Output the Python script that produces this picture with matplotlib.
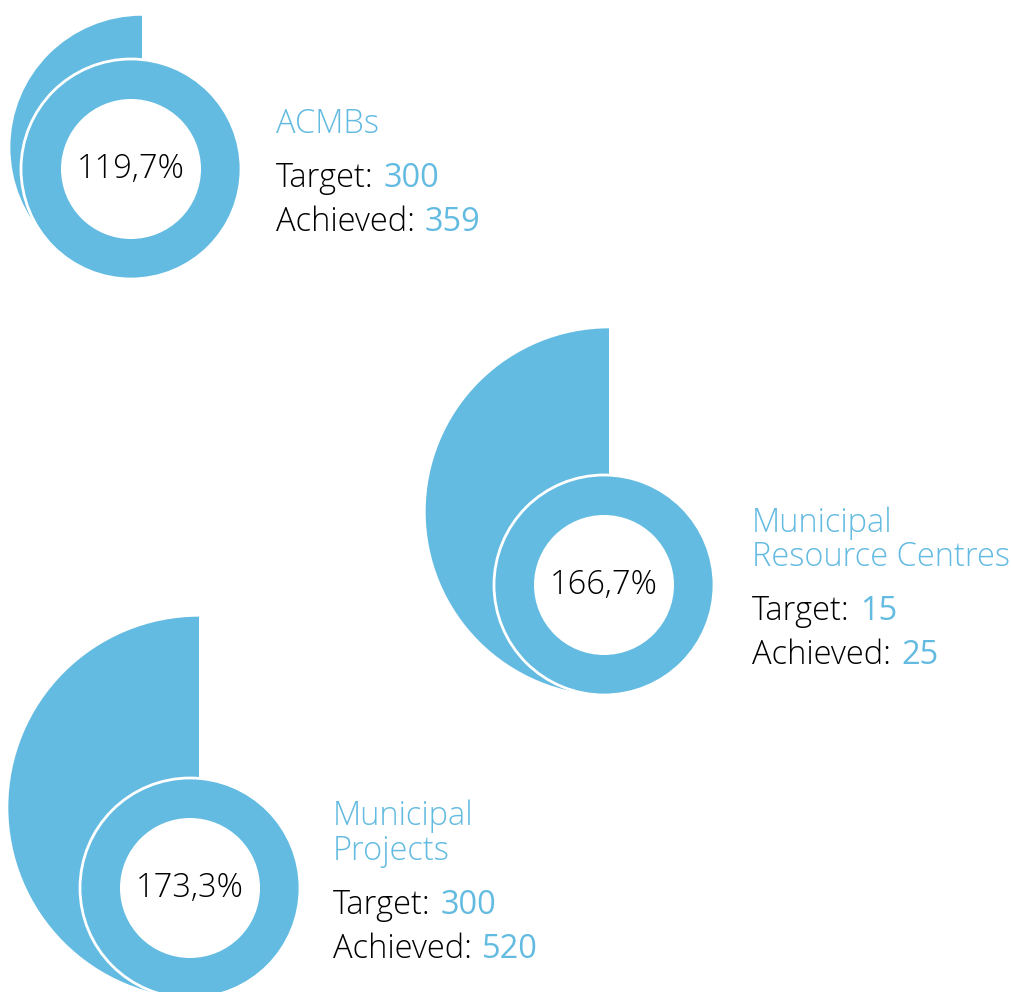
import matplotlib
matplotlib.use("Agg")
import matplotlib.pyplot as plt
from matplotlib.patches import Wedge, Circle

# data
labels = ["ACMBs", "Municipal\nResource Centres", "Municipal\nProjects"]
targets = [300, 15, 300]
achieved = [359, 25, 520]

# layout (pixel space)
centers = [(131, 169), (604, 585), (190, 888)]
edge_dx = [11, 5, 9]
text_pos = [(276, 133), (752, 532), (333, 825)]

BLUE = "#63bbe1"
FONT = "Open Sans"
FS = 23.5
RING_R = 110
HOLE_R = 70


def fmt_pct(p):
    return f"{p:.1f}".replace(".", ",") + "%"


fig = plt.figure(figsize=(10.11, 9.92), dpi=100)
ax = fig.add_axes([0, 0, 1, 1])
ax.set_xlim(0, 1011)
ax.set_ylim(992, 0)
ax.axis("off")

for lab, tgt, ach, (cx, cy), dx, (tx, ty) in zip(labels, targets, achieved,
                                                 centers, edge_dx, text_pos):
    pct = ach / tgt * 100
    big_r = RING_R * pct / 100
    # excess drawn as a bigger half disc sitting on the ring's bottom
    ax.add_patch(Wedge((cx + dx, cy + RING_R - big_r), big_r, 90, 270,
                       facecolor=BLUE, edgecolor="none"))
    ax.add_patch(Circle((cx, cy), RING_R, facecolor=BLUE,
                        edgecolor="white", linewidth=2))
    ax.add_patch(Circle((cx, cy), HOLE_R, facecolor="white", edgecolor="none"))
    ax.text(cx, cy, fmt_pct(pct), ha="center", va="center", fontsize=FS,
            family=FONT, weight="light", color="black")

    # label block
    y = ty
    for line in lab.split("\n"):
        ax.text(tx, y, line, ha="left", va="baseline", fontsize=FS,
                family=FONT, weight="light", color=BLUE)
        y += 34.5
    y += 54 - 34.5
    for word, val in [("Target:", tgt), ("Achieved:", ach)]:
        t = ax.text(tx, y, word, ha="left", va="baseline", fontsize=FS,
                    family=FONT, weight="light", color="black")
        ax.annotate(str(val), xy=(1, 0), xycoords=t, xytext=(10, 0),
                    textcoords="offset pixels", ha="left", va="bottom",
                    fontsize=FS, family=FONT, weight="medium", color=BLUE)
        y += 44

fig.savefig("out.png", dpi=100)
